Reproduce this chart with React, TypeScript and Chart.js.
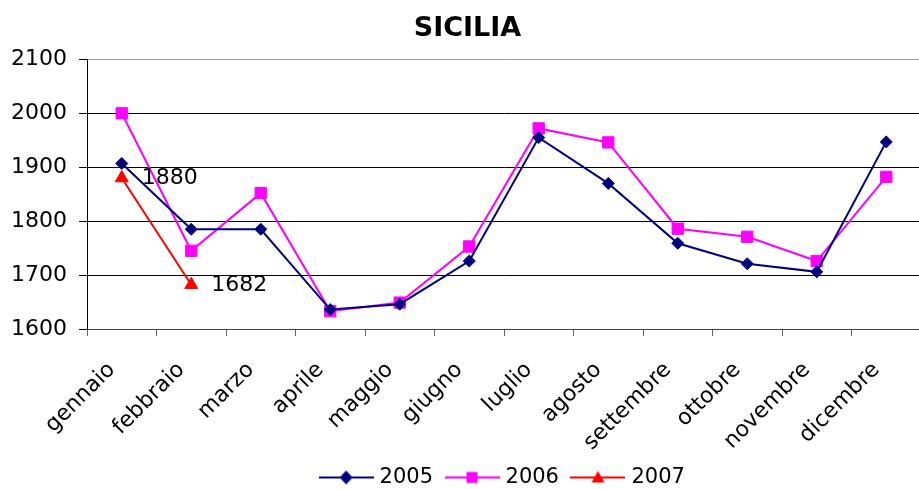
import React, { useEffect, useRef } from "react";
import { Chart, registerables } from "chart.js";

Chart.register(...registerables);

const FONT = "'DejaVu Sans', sans-serif";

const categories = [
  "gennaio",
  "febbraio",
  "marzo",
  "aprile",
  "maggio",
  "giugno",
  "luglio",
  "agosto",
  "settembre",
  "ottobre",
  "novembre",
  "dicembre",
];

const series2005 = [1907, 1785, 1785, 1636, 1646, 1726, 1955, 1870, 1759, 1721, 1706, 1947];
const series2006 = [2000, 1745, 1852, 1633, 1649, 1753, 1972, 1946, 1786, 1771, 1726, 1882];
const series2007: (number | null)[] = [1880, 1682, null, null, null, null, null, null, null, null, null, null];

const yMin = 1600;
const yMax = 2100;
const yStep = 100;

const seriesNames = ["2005", "2006", "2007"];
const seriesColors = ["#000080", "#FF00FF", "#FF0000"];

function makeLegendImage(color: string, shape: string): HTMLCanvasElement {
  const c = document.createElement("canvas");
  c.width = 55;
  c.height = 16;
  const g = c.getContext("2d")!;
  g.strokeStyle = color;
  g.lineWidth = 2;
  g.beginPath();
  g.moveTo(0, 8);
  g.lineTo(55, 8);
  g.stroke();
  g.fillStyle = color;
  g.beginPath();
  const cx = 27.5;
  const cy = 8;
  if (shape === "diamond") {
    g.moveTo(cx, cy - 7);
    g.lineTo(cx + 6.5, cy);
    g.lineTo(cx, cy + 7);
    g.lineTo(cx - 6.5, cy);
  } else if (shape === "square") {
    g.rect(cx - 5.5, cy - 5.5, 11, 11);
  } else {
    g.moveTo(cx, cy - 6.5);
    g.lineTo(cx + 6.5, cy + 5);
    g.lineTo(cx - 6.5, cy + 5);
  }
  g.closePath();
  g.fill();
  return c;
}

const valueLabels = {
  id: "valueLabels",
  afterDatasetsDraw(chart: any) {
    const ctx = chart.ctx;
    const meta = chart.getDatasetMeta(2);
    ctx.save();
    ctx.font = `22px ${FONT}`;
    ctx.fillStyle = "#000";
    ctx.textBaseline = "middle";
    ctx.textAlign = "left";
    meta.data.forEach((pt: any, i: number) => {
      const v = series2007[i];
      if (v == null) return;
      ctx.fillText(String(v), pt.x + 20, pt.y);
    });
    ctx.restore();
  },
};

export default function App() {
  const ref = useRef<HTMLCanvasElement>(null);

  useEffect(() => {
    if (!ref.current) return;
    const images = [
      makeLegendImage(seriesColors[0], "diamond"),
      makeLegendImage(seriesColors[1], "square"),
      makeLegendImage(seriesColors[2], "triangle"),
    ];
    const chart = new Chart(ref.current, {
      type: "line",
      data: {
        labels: categories,
        datasets: [
          {
            label: seriesNames[0],
            data: series2005,
            borderColor: seriesColors[0],
            backgroundColor: seriesColors[0],
            borderWidth: 2,
            pointStyle: "rectRot",
            pointRadius: 6,
            pointBorderWidth: 1,
            tension: 0,
          },
          {
            label: seriesNames[1],
            data: series2006,
            borderColor: seriesColors[1],
            backgroundColor: seriesColors[1],
            borderWidth: 2,
            pointStyle: "rect",
            pointRadius: 8,
            pointBorderWidth: 1,
            tension: 0,
          },
          {
            label: seriesNames[2],
            data: series2007,
            borderColor: seriesColors[2],
            backgroundColor: seriesColors[2],
            borderWidth: 2,
            pointStyle: "triangle",
            pointRadius: 7.5,
            pointBorderWidth: 1,
            tension: 0,
          },
        ],
      },
      options: {
        responsive: false,
        animation: false,
        layout: { padding: { left: 5, right: 0, top: 0, bottom: 0 } },
        plugins: {
          title: {
            display: true,
            text: "SICILIA",
            color: "#000",
            font: { family: FONT, size: 27, weight: "bold" },
            padding: { top: 13, bottom: 14 },
          },
          legend: {
            position: "bottom",
            fullSize: false,
            labels: {
              usePointStyle: true,
              pointStyleWidth: 46,
              padding: 16,
              color: "#000",
              font: { family: FONT, size: 21 },
              generateLabels: (c: any) => {
                const items = Chart.defaults.plugins.legend.labels.generateLabels(c);
                return items.map((it: any, i: number) => ({ ...it, pointStyle: images[i] }));
              },
            },
          },
          tooltip: { enabled: false },
        },
        scales: {
          x: {
            offset: true,
            afterFit: (s: any) => {
              s.height = 122;
            },
            grid: {
              display: true,
              drawOnChartArea: false,
              drawTicks: true,
              tickLength: 7,
              offset: true,
              color: "#666",
            },
            border: { display: true, color: "#444", width: 1 },
            ticks: {
              color: "#000",
              font: { family: FONT, size: 22 },
              minRotation: 45,
              maxRotation: 45,
              autoSkip: false,
              padding: 21,
              labelOffset: -10,
            },
          },
          y: {
            min: yMin,
            max: yMax,
            afterFit: (s: any) => {
              s.width = 82;
            },
            grid: {
              color: (ctx: any) => (ctx.tick && ctx.tick.value === yMax ? "#a0a0a0" : "#000"),
              tickColor: "#000",
              tickLength: 8,
              lineWidth: 1,
            },
            border: { display: true, color: "#000", width: 1 },
            ticks: {
              stepSize: yStep,
              color: "#000",
              padding: 12,
              font: { family: FONT, size: 22 },
              callback: (v: any) => String(v),
            },
          },
        },
      },
      plugins: [valueLabels],
    });
    return () => chart.destroy();
  }, []);

  return (
    <div
      style={{
        position: "fixed",
        left: 0,
        top: 0,
        width: 919,
        height: 489,
        overflow: "hidden",
        background: "#fff",
      }}
    >
      <canvas ref={ref} width={930} height={498} style={{ display: "block" }} />
    </div>
  );
}
